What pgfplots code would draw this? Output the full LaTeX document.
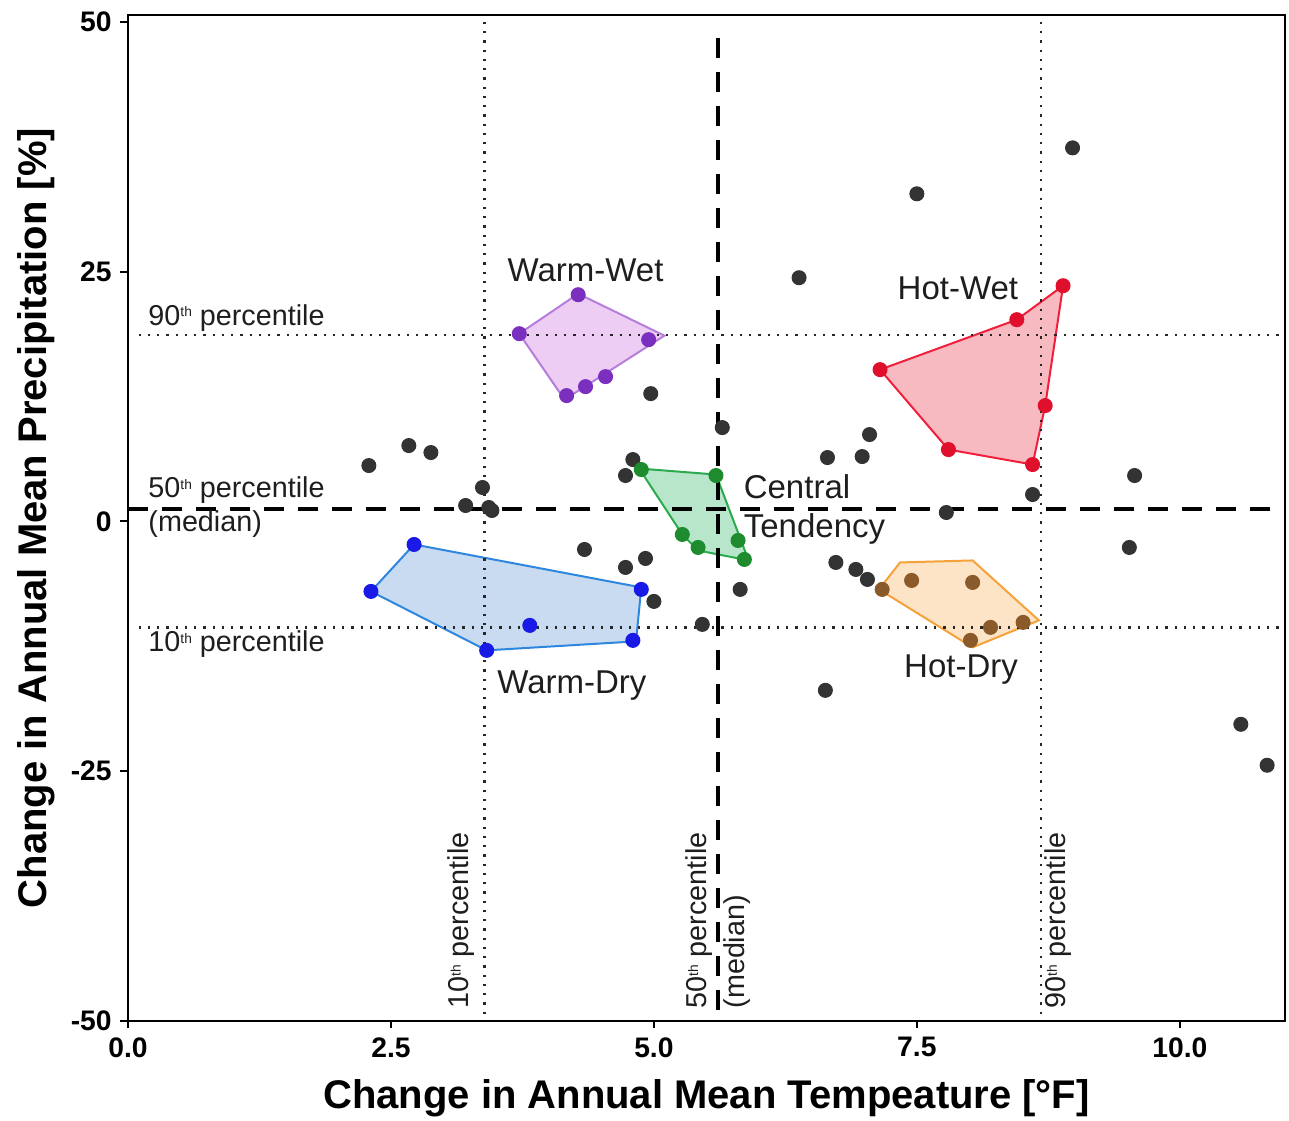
\documentclass[border=0pt]{standalone}
\usepackage{fontspec}
\setmainfont{Liberation Sans}
\usepackage{pgfplots}
\pgfplotsset{compat=1.18}
\definecolor{ptgray}{HTML}{333333}
\definecolor{wwfill}{HTML}{EDCDF3}\definecolor{wwdraw}{HTML}{B57EDC}\definecolor{wwpt}{HTML}{7B2FBE}
\definecolor{wdfill}{HTML}{C8DBF0}\definecolor{wddraw}{HTML}{2E86DE}\definecolor{wdpt}{HTML}{1A1AE6}
\definecolor{ctfill}{HTML}{B8E6CB}\definecolor{ctdraw}{HTML}{2BAA4E}\definecolor{ctpt}{HTML}{1E8C2E}
\definecolor{hwfill}{HTML}{F7BAC1}\definecolor{hwdraw}{HTML}{F0203C}\definecolor{hwpt}{HTML}{E0102C}
\definecolor{hdfill}{HTML}{FDE4C6}\definecolor{hddraw}{HTML}{F5A23A}\definecolor{hdpt}{HTML}{8B5A2B}
\definecolor{txt}{HTML}{1E1E1E}
\newcommand{\sth}{\raisebox{0.55ex}{\fontsize{5.5}{6}\selectfont th}}
\begin{document}
\begin{tikzpicture}
\begin{axis}[
  at={(0,0)}, anchor=south west,
  scale only axis, width=462.8pt, height=402.4pt,
  xmin=0, xmax=11, ymin=-50, ymax=50.7,
  clip=false,
  axis line style={line width=1.1pt},
  xtick={0,2.5,5,7.5,10}, xticklabels={0.0,2.5,5.0,7.5,10.0},
  ytick={-50,-25,0,25,50}, yticklabels={-50,-25,0,25,50},
  tick align=outside, tick pos=left, major tick length=3pt,
  tick style={line width=0.8pt, black},
  ticklabel style={font=\fontsize{11.3}{13}\selectfont\bfseries},
  xlabel={Change in Annual Mean Tempeature [°F]},
  ylabel={Change in Annual Mean Precipitation [\%]},
  label style={font=\fontsize{16}{19}\selectfont\bfseries},
  xlabel style={at={(axis description cs:0.5,-0.0765)}, anchor=center},
  ylabel style={at={(axis description cs:-0.0795,0.5)}, anchor=center},
]
% hulls
\addplot[fill=wwfill, draw=wwdraw, line width=0.8pt] coordinates {(4.28,22.8) (5.10,18.6) (4.15,12.2) (3.72,18.8)} -- cycle;
\addplot[fill=wdfill, draw=wddraw, line width=0.8pt] coordinates {(2.72,-2.3) (4.88,-6.6) (4.83,-12.0) (3.41,-12.9) (2.31,-7.0)} -- cycle;
\addplot[fill=ctfill, draw=ctdraw, line width=0.8pt] coordinates {(4.86,5.3) (5.59,4.7) (5.90,-3.9) (5.42,-2.9) (5.27,-1.3)} -- cycle;
\addplot[fill=hwfill, draw=hwdraw, line width=0.8pt] coordinates {(8.89,23.6) (8.72,11.6) (8.60,5.7) (7.80,7.2) (7.15,15.2) (8.45,20.2)} -- cycle;
\addplot[fill=hdfill, draw=hddraw, line width=0.8pt] coordinates {(7.34,-4.1) (8.03,-3.9) (8.66,-9.9) (8.03,-12.6) (7.14,-6.8)} -- cycle;
% percentile lines
\addplot[black!85, line width=0.9pt, dash pattern=on 0.9pt off 2.8pt] coordinates {(0.1,18.7) (11,18.7)};
\addplot[black!85, line width=0.9pt, dash pattern=on 0.9pt off 2.8pt] coordinates {(0.1,-10.6) (11,-10.6)};
\addplot[black!85, line width=0.9pt, dash pattern=on 0.9pt off 2.8pt] coordinates {(3.39,50) (3.39,-50)};
\addplot[black!85, line width=0.9pt, dash pattern=on 0.9pt off 2.8pt] coordinates {(8.68,50) (8.68,-50)};
\addplot[black, line width=1.6pt, dash pattern=on 8pt off 5.6pt] coordinates {(5.61,48.4) (5.61,-50)};
\addplot[black, line width=1.6pt, dash pattern=on 8pt off 5.6pt] coordinates {(0,1.3) (11,1.3)};
% points
\addplot[only marks, mark=*, mark size=2.8pt, ptgray] coordinates {
(2.29,5.6) (2.67,7.6) (2.88,6.9) (3.21,1.6) (3.37,3.4) (3.43,1.4) (3.46,1.1)
(4.97,12.8) (4.80,6.2) (4.73,4.6) (4.34,-2.8) (4.73,-4.6) (4.92,-3.7) (5.0,-8.0)
(5.46,-10.3) (5.65,9.4) (5.82,-6.8) (6.38,24.4) (7.50,32.8) (8.98,37.4) (7.05,8.7)
(6.65,6.4) (6.98,6.5) (9.57,4.6) (7.78,0.9) (8.60,2.7) (9.52,-2.6) (6.73,-4.1)
(6.92,-4.8) (7.03,-5.8) (6.63,-16.9) (10.58,-20.3) (10.83,-24.4)};
\addplot[only marks, mark=*, mark size=2.8pt, wwpt] coordinates {(4.28,22.7) (3.72,18.8) (4.95,18.2) (4.17,12.6) (4.35,13.5) (4.54,14.5)};
\addplot[only marks, mark=*, mark size=2.8pt, wdpt] coordinates {(2.72,-2.3) (2.31,-7.0) (3.41,-12.9) (3.82,-10.4) (4.80,-11.9) (4.88,-6.8)};
\addplot[only marks, mark=*, mark size=2.8pt, ctpt] coordinates {(4.88,5.2) (5.59,4.6) (5.27,-1.3) (5.42,-2.6) (5.80,-1.9) (5.86,-3.8)};
\addplot[only marks, mark=*, mark size=2.8pt, hwpt] coordinates {(8.89,23.6) (8.45,20.2) (7.15,15.2) (8.72,11.6) (7.80,7.2) (8.60,5.7)};
\addplot[only marks, mark=*, mark size=2.8pt, hdpt] coordinates {(7.17,-6.8) (7.45,-5.9) (8.03,-6.1) (8.20,-10.6) (8.01,-11.9) (8.51,-10.1)};
% labels
\begin{scope}[every node/.style={text=txt, font=\fontsize{13.2}{15.5}\selectfont, inner sep=0pt}]
\node at (axis cs:4.35,25.1) {Warm-Wet};
\node at (axis cs:7.89,23.3) {Hot-Wet};
\node[anchor=west, align=left] at (axis cs:5.85,1.2) {Central\\Tendency};
\node at (axis cs:4.22,-16.4) {Warm-Dry};
\node at (axis cs:7.92,-14.8) {Hot-Dry};
\end{scope}
\begin{scope}[every node/.style={text=txt, font=\fontsize{11.5}{13}\selectfont, inner sep=0pt}]
\node[anchor=west] at (axis cs:0.19,20.4) {90\sth{} percentile};
\node[anchor=west] at (axis cs:0.19,3.1) {50\sth{} percentile};
\node[anchor=west] at (axis cs:0.19,-0.3) {(median)};
\node[anchor=west] at (axis cs:0.19,-12.3) {10\sth{} percentile};
\node[anchor=west, rotate=90] at (axis cs:3.17,-48.8) {10\sth{} percentile};
\node[anchor=west, rotate=90] at (axis cs:5.43,-48.8) {50\sth{} percentile};
\node[anchor=west, rotate=90] at (axis cs:5.79,-48.8) {(median)};
\node[anchor=west, rotate=90] at (axis cs:8.84,-48.8) {90\sth{} percentile};
\end{scope}
\end{axis}
\pgfresetboundingbox
\path[use as bounding box] (-51.2pt,-40pt) rectangle (464.4pt,408.4pt);
\end{tikzpicture}
\end{document}
